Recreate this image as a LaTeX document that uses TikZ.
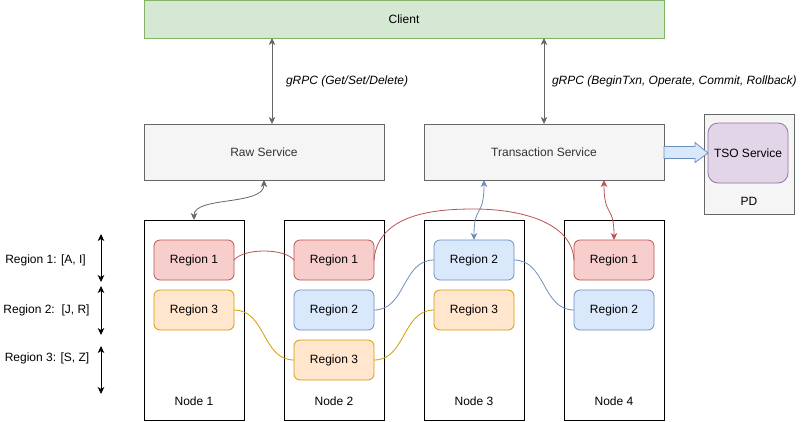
\documentclass[tikz,border=0pt]{standalone}
\usepackage{fontspec}
\setmainfont{Liberation Sans}
\usetikzlibrary{arrows.meta,calc}
\definecolor{grnF}{HTML}{D5E8D4}
\definecolor{grnD}{HTML}{82B366}
\definecolor{gryF}{HTML}{F5F5F5}
\definecolor{gryD}{HTML}{666666}
\definecolor{txtG}{HTML}{333333}
\definecolor{redF}{HTML}{F8CECC}
\definecolor{redD}{HTML}{B85450}
\definecolor{bluF}{HTML}{DAE8FC}
\definecolor{bluD}{HTML}{6C8EBF}
\definecolor{orgF}{HTML}{FFE6CC}
\definecolor{orgD}{HTML}{D79B00}
\definecolor{purF}{HTML}{E1D5E7}
\definecolor{purD}{HTML}{9673A6}
\tikzset{
  every node/.style={font=\fontsize{12}{14}\selectfont, inner sep=0pt, outer sep=0pt},
  svc/.style={draw=gryD, fill=gryF, line width=0.8pt, minimum width=240pt, minimum height=56pt, text=txtG},
  clientbox/.style={draw=grnD, fill=grnF, line width=0.8pt, minimum width=520pt, minimum height=38pt},
  machine/.style={draw=black, line width=0.8pt, minimum width=100pt, minimum height=200pt},
  reg/.style={rounded corners=6pt, line width=0.8pt, minimum width=80pt, minimum height=40pt},
  rone/.style={reg, draw=redD, fill=redF},
  rtwo/.style={reg, draw=bluD, fill=bluF},
  rthree/.style={reg, draw=orgD, fill=orgF},
  tip/.style={Stealth[length=7pt,width=6.5pt,inset=2pt]},
  link/.style={line width=0.8pt},
  biarrow/.style={link, {Stealth[length=7pt,width=6.5pt,inset=2pt]}-{Stealth[length=7pt,width=6.5pt,inset=2pt]}},
  glabel/.style={font=\fontsize{12}{14}\selectfont\itshape, anchor=west},
}
\begin{document}
\begin{tikzpicture}[x=1pt,y=-1pt]
\useasboundingbox (0,0) rectangle (805,421);

% top
\node[clientbox] (client) at (404,19) {Client};
\node[svc] (raw) at (264,152) {Raw Service};
\node[svc] (txn) at (544,152) {Transaction Service};

% PD
\node[draw=gryD, fill=gryF, line width=0.8pt, minimum width=90pt, minimum height=100pt] (pd) at (749,164) {};
\node (pdl) at (749,201) {PD};
\node[draw=purD, fill=purF, line width=0.8pt, rounded corners=10pt, minimum width=80pt, minimum height=60pt] (tso) at (748,153) {TSO Service};

% machines
\node[machine] (n1) at (194,320) {};
\node[machine] (n2) at (334,320) {};
\node[machine] (n3) at (474,320) {};
\node[machine] (n4) at (614,320) {};
\node (n1l) at (194,401) {Node 1};
\node (n2l) at (334,401) {Node 2};
\node (n3l) at (474,401) {Node 3};
\node (n4l) at (614,401) {Node 4};

% regions
\node[rone]   (a1) at (194,260) {Region 1};
\node[rthree] (a3) at (194,310) {Region 3};
\node[rone]   (b1) at (334,260) {Region 1};
\node[rtwo]   (b2) at (334,310) {Region 2};
\node[rthree] (b3) at (334,360) {Region 3};
\node[rtwo]   (c2) at (474,260) {Region 2};
\node[rthree] (c3) at (474,310) {Region 3};
\node[rone]   (d1) at (614,260) {Region 1};
\node[rtwo]   (d2) at (614,310) {Region 2};

% left legend
\node (k1) at (45.5,260) {Region 1: [A, I]};
\node (k2) at (46.5,310) {Region 2:\ \ [J, R]};
\node (k3) at (47,358) {Region 3: [S, Z]};
\coordinate (k1t) at (101,234);
\coordinate (k1b) at (101,282);
\coordinate (k2t) at (101,286);
\coordinate (k2b) at (101,335);
\coordinate (k3t) at (101,346);
\coordinate (k3b) at (101,394);
\draw[biarrow, black] (k1t) -- (k1b);
\draw[biarrow, black] (k2t) -- (k2b);
\draw[biarrow, black] (k3t) -- (k3b);

% client links
\draw[biarrow, gryD] (client.south -| 272,0) -- (raw.north -| 272,0);
\draw[biarrow, gryD] (client.south -| 544,0) -- (txn.north -| 544,0);
\node[glabel] (g1) at (286,81) {gRPC (Get/Set/Delete)};
\node[glabel] (g2) at (552,81) {gRPC (BeginTxn, Operate, Commit, Rollback)};

% raw -> node 1
\draw[biarrow, gryD] (raw.south) .. controls (264,206) and (194,196) .. (n1.north);

% txn -> regions
\draw[biarrow, bluD] ($(txn.south)+(-60,0)$) .. controls (484,218) and (474,204) .. (c2.north);
\draw[biarrow, redD] ($(txn.south)+(60,0)$) .. controls (604,218) and (614,204) .. (d1.north);

% block arrow to TSO
\draw[draw=bluD, fill=bluF, line width=0.8pt, line join=miter]
  ($(txn.east)+(0,-5.5)$) -- ++(31,0) -- ++(0,-4) -- (tso.west) -- ++(-13,9.5) -- ++(0,-4) -- ++(-31,0) -- cycle;

% region replication links
\draw[link, redD] (a1.east) .. controls (244,248) and (284,248) .. (b1.west);
\draw[link, redD] (b1.east) .. controls (378,212) and (440,209) .. (474,209)
                             .. controls (520,209) and (572,222) .. (d1.west);
\draw[link, bluD] (b2.east) .. controls (406,310) and (402,260) .. (c2.west);
\draw[link, bluD] (c2.east) .. controls (546,260) and (542,310) .. (d2.west);
\draw[link, orgD] (a3.east) .. controls (266,310) and (262,360) .. (b3.west);
\draw[link, orgD] (b3.east) .. controls (406,360) and (402,310) .. (c3.west);
\end{tikzpicture}
\end{document}
